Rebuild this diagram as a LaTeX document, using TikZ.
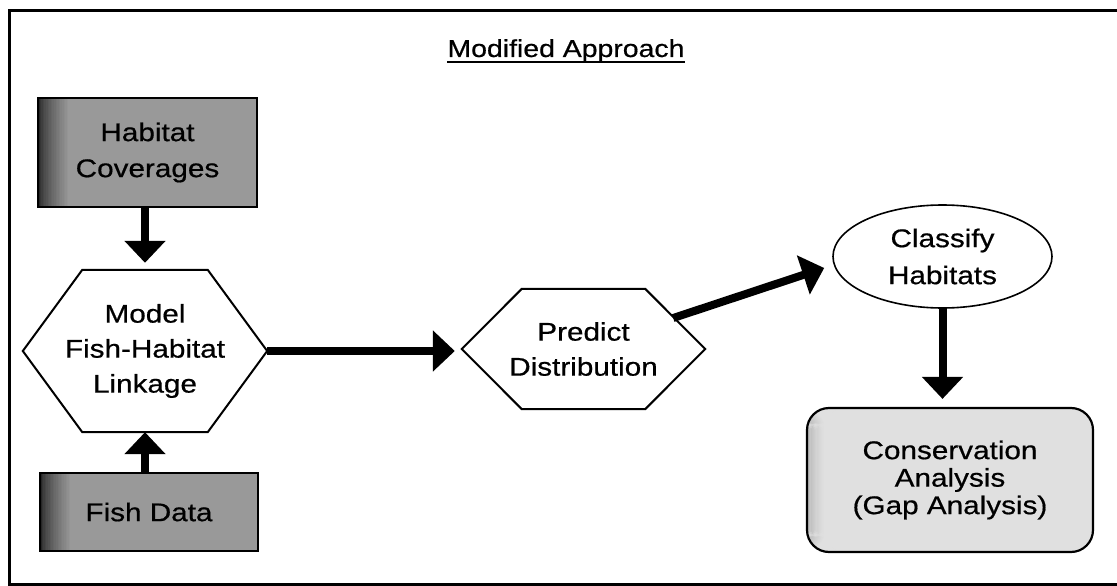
\documentclass[tikz,border=0pt]{standalone}
\usepackage{fontspec}
\setmainfont{Liberation Sans}[FakeStretch=1.16,FakeBold=0.6]
\usetikzlibrary{arrows.meta,shapes.geometric,calc}
\begin{document}
\begin{tikzpicture}[x=1pt,y=-1pt,
  txt/.style={font=\fontsize{25.6}{36}\selectfont, align=center, inner sep=0pt},
  darkbox/.style={txt, draw=black, line width=1.5pt, fill=black!40,
    path picture={\foreach \i in {0,...,19}{
        \pgfmathsetmacro\cc{85-45*(\i/19)^0.7}
        \fill[black!\cc] ([xshift=\i*1.6pt]path picture bounding box.north west)
          rectangle ([xshift=\i*1.6pt+1.7pt]path picture bounding box.south west);}}},
  hexline/.style={line width=2pt, line join=miter},
  arr/.style={line width=8pt, -{Triangle[width=40pt,length=22pt]}},
]
\useasboundingbox (0,0) rectangle (1117,586);
\draw[line width=3pt] (9,10.5) rectangle (1125,584);

% title
\node[txt, font=\fontsize{24.5}{30}\selectfont, anchor=base] (title) at (566,57) {Modified Approach};
\draw[line width=1.8pt] ($(title.base west)+(0,5)$) -- ($(title.base east)+(0,5)$);

% inputs
\node[darkbox, minimum width=219pt, minimum height=109pt] (hab) at (147.5,152.5) {Habitat\\Coverages};
\node[darkbox, minimum width=218pt, minimum height=78pt] (fish) at (149,512) {Fish Data};

% model hexagon
\node[txt, font=\fontsize{25.6}{35}\selectfont, minimum width=244pt, minimum height=162pt] (model) at (145,351) {Model\\Fish-Habitat\\Linkage};
\draw[hexline] (model.west) -- ($(model.north west)+(59.5,0)$) -- ($(model.north east)+(-59.5,0)$)
  -- (model.east) -- ($(model.south east)+(-59.5,0)$) -- ($(model.south west)+(59.5,0)$) -- cycle;

% predict hexagon
\node[txt, font=\fontsize{25.6}{35}\selectfont, minimum width=243pt, minimum height=120pt] (pred) at (583.5,349) {Predict\\Distribution};
\draw[hexline] (pred.west) -- ($(pred.north west)+(60,0)$) -- ($(pred.north east)+(-60,0)$)
  -- (pred.east) -- ($(pred.south east)+(-60,0)$) -- ($(pred.south west)+(60,0)$) -- cycle;

% classify ellipse
\node[txt, font=\fontsize{25.6}{37}\selectfont, ellipse, draw, line width=1.6pt, fill=white,
  minimum width=219pt, minimum height=103pt] (cls) at (942.5,256.5) {Classify\\Habitats};

% conservation
\node[txt, font=\fontsize{25.6}{27.5}\selectfont, draw, line width=2.2pt, rounded corners=22pt, fill=black!12,
  minimum width=286pt, minimum height=144pt,
  path picture={\foreach \i in {0,...,14}{
        \pgfmathsetmacro\cc{30-18*(\i/14)^0.7}
        \fill[black!\cc] ([xshift=\i*1.2pt]path picture bounding box.north west)
          rectangle ([xshift=\i*1.2pt+1.3pt]path picture bounding box.south west);}}]
  (cons) at (950,480) {Conservation\\Analysis\\(Gap Analysis)};

% connectors
\draw[arr] (hab.south -| model.north) -- ($(model.north)+(0,-7)$);
\draw[arr] (fish.north -| model.south) -- (model.south);
\draw[arr] (model.east) -- ($(pred.west |- model.east)+(-7,0)$);
\draw[arr] ($(pred.east)+(-32,-31)$) -- ($(cls.west)+(-8,11.5)$);
\draw[arr] (cls.south) -- ($(cons.north -| cls.south)+(0,-8)$);
\end{tikzpicture}
\end{document}
